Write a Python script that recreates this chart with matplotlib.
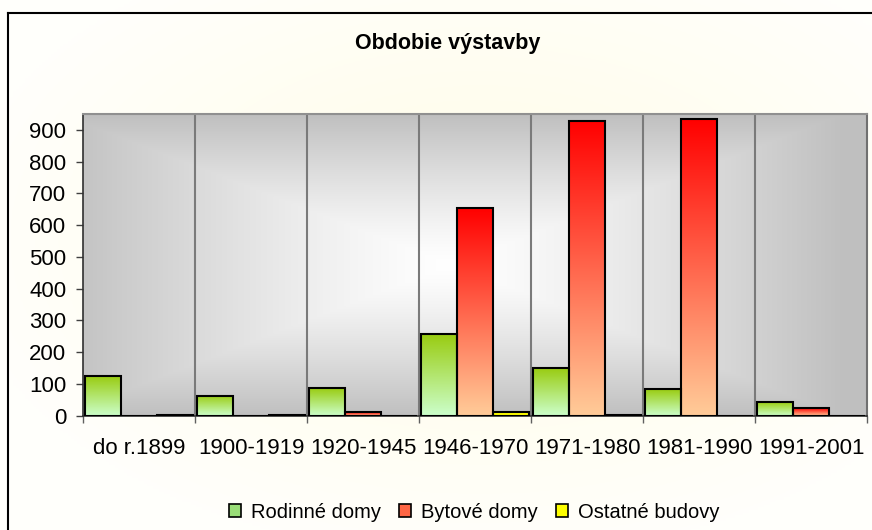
import numpy as np
import matplotlib
matplotlib.use("Agg")
import matplotlib.pyplot as plt
from matplotlib.colors import LinearSegmentedColormap
from matplotlib.lines import Line2D
from matplotlib.patches import Patch

categories = ["do r.1899", "1900-1919", "1920-1945", "1946-1970", "1971-1980", "1981-1990", "1991-2001"]
rodinne = [125, 63, 86, 256, 149, 85, 42]
bytove = [0, 0, 11, 653, 929, 935, 23]
ostatne = [3, 2, 0, 11, 3, 0, 0]
series_names = ["Rodinné domy", "Bytové domy", "Ostatné budovy"]
title = "Obdobie výstavby"
yticks = [0, 100, 200, 300, 400, 500, 600, 700, 800, 900]

plt.rcParams['font.family'] = ['Liberation Sans', 'DejaVu Sans']

W, H = 872, 530
fig = plt.figure(figsize=(W / 100, H / 100), dpi=100)
fig.patch.set_facecolor('#FFFFF6')

# figure background glow
bg = fig.add_axes([0, 0, 1, 1], zorder=-10)
yy, xx = np.mgrid[0:1:200j, 0:1:300j]
r = np.sqrt(((xx - 0.55) / 0.6) ** 2 + ((yy - 0.55) / 0.6) ** 2)
r = np.clip(r, 0, 1)
c0 = np.array([1.0, 0.99, 0.90])
c1 = np.array([1.0, 1.0, 0.985])
img = c0[None, None, :] * (1 - r[..., None]) + c1[None, None, :] * r[..., None]
bg.imshow(img, extent=[0, 1, 0, 1], aspect='auto', origin='lower')
bg.set_axis_off()

# border (left and top)
fig.add_artist(Line2D([8 / W, 8 / W], [0, 1 - 13 / H], transform=fig.transFigure, color='black', lw=1.5))
fig.add_artist(Line2D([8 / W, 1], [1 - 13 / H, 1 - 13 / H], transform=fig.transFigure, color='black', lw=1.5))

left, right = 83, 867
top, bottom = 114, 415.7
ax = fig.add_axes([left / W, 1 - bottom / H, (right - left) / W, (bottom - top) / H])
ax.set_xlim(0, len(categories))
ax.set_ylim(0, 950)

# plot area gradient (from center)
gy, gx = np.mgrid[-1:1:300j, -1:1:400j]
t = np.maximum(np.abs(gx + 0.06), np.abs(gy))
t = np.clip(t, 0, 1) ** 1.3
white = np.array([1.0, 1.0, 1.0])
gray = np.array([0.75, 0.75, 0.75])
pimg = white[None, None, :] * (1 - t[..., None]) + gray[None, None, :] * t[..., None]
ax.imshow(pimg, extent=[0, 1, 0, 1], transform=ax.transAxes, aspect='auto', zorder=0, origin='lower')

x = np.arange(len(categories))
bw = 0.32
offsets = [-bw, 0, bw]
grads = [
    LinearSegmentedColormap.from_list('g', ['#CCFFCC', '#99CC11']),
    LinearSegmentedColormap.from_list('r', ['#FFCC99', '#FF0000']),
    LinearSegmentedColormap.from_list('y', ['#FFFF00', '#FFFF00']),
]
legcolors = ['#99DD77', '#FF6644', '#FFFF00']
grad = np.linspace(0, 1, 256).reshape(-1, 1)
for vals, off, cmap in zip([rodinne, bytove, ostatne], offsets, grads):
    bars = ax.bar(x + 0.5 + off, vals, width=bw, facecolor='none', edgecolor='black', linewidth=1.5, zorder=3)
    for b in bars:
        h = b.get_height()
        if h <= 0:
            continue
        x0 = b.get_x()
        im = ax.imshow(grad, extent=[x0, x0 + b.get_width(), 0, h], origin='lower', cmap=cmap,
                       aspect='auto', zorder=2, interpolation='bilinear')
        im.set_clip_path(b)

ax.set_xlim(0, len(categories))
ax.set_ylim(0, 950)

for i in range(1, len(categories)):
    ax.axvline(i, color='#7a7a7a', lw=1.5, zorder=1)

ax.set_yticks(yticks)
ax.set_yticklabels([str(v) for v in yticks], fontsize=16)
ax.set_xticks(np.arange(len(categories) + 1))
ax.set_xticklabels([])
ax.set_xticks(x + 0.5, minor=True)
ax.set_xticklabels(categories, minor=True, fontsize=16)
ax.tick_params(axis='x', which='minor', length=0, pad=16)
ax.tick_params(axis='x', which='major', length=5, width=1, color='#606060')
ax.tick_params(axis='y', length=5, width=1, color='#404040', pad=7)

ax.spines['left'].set_color('#303030')
ax.spines['left'].set_linewidth(1.2)
ax.spines['bottom'].set_color('#303030')
ax.spines['bottom'].set_linewidth(1.2)
ax.spines['top'].set_color('#909090')
ax.spines['top'].set_linewidth(1.5)
ax.spines['right'].set_color('#707070')
ax.spines['right'].set_linewidth(1.5)

fig.text(448 / W, 1 - 44 / H, title, ha='center', va='center', fontsize=15.5, fontweight='bold')

handles = [Patch(facecolor=c, edgecolor='black', linewidth=1.2) for c in legcolors]
fig.legend(handles, series_names, loc='center', bbox_to_anchor=(474 / W, 1 - 512 / H), ncol=3,
           frameon=False, fontsize=14.5, handlelength=0.6, handleheight=0.6, handletextpad=0.5,
           columnspacing=0.9)

fig.savefig('out.png', dpi=100, facecolor=fig.get_facecolor())
